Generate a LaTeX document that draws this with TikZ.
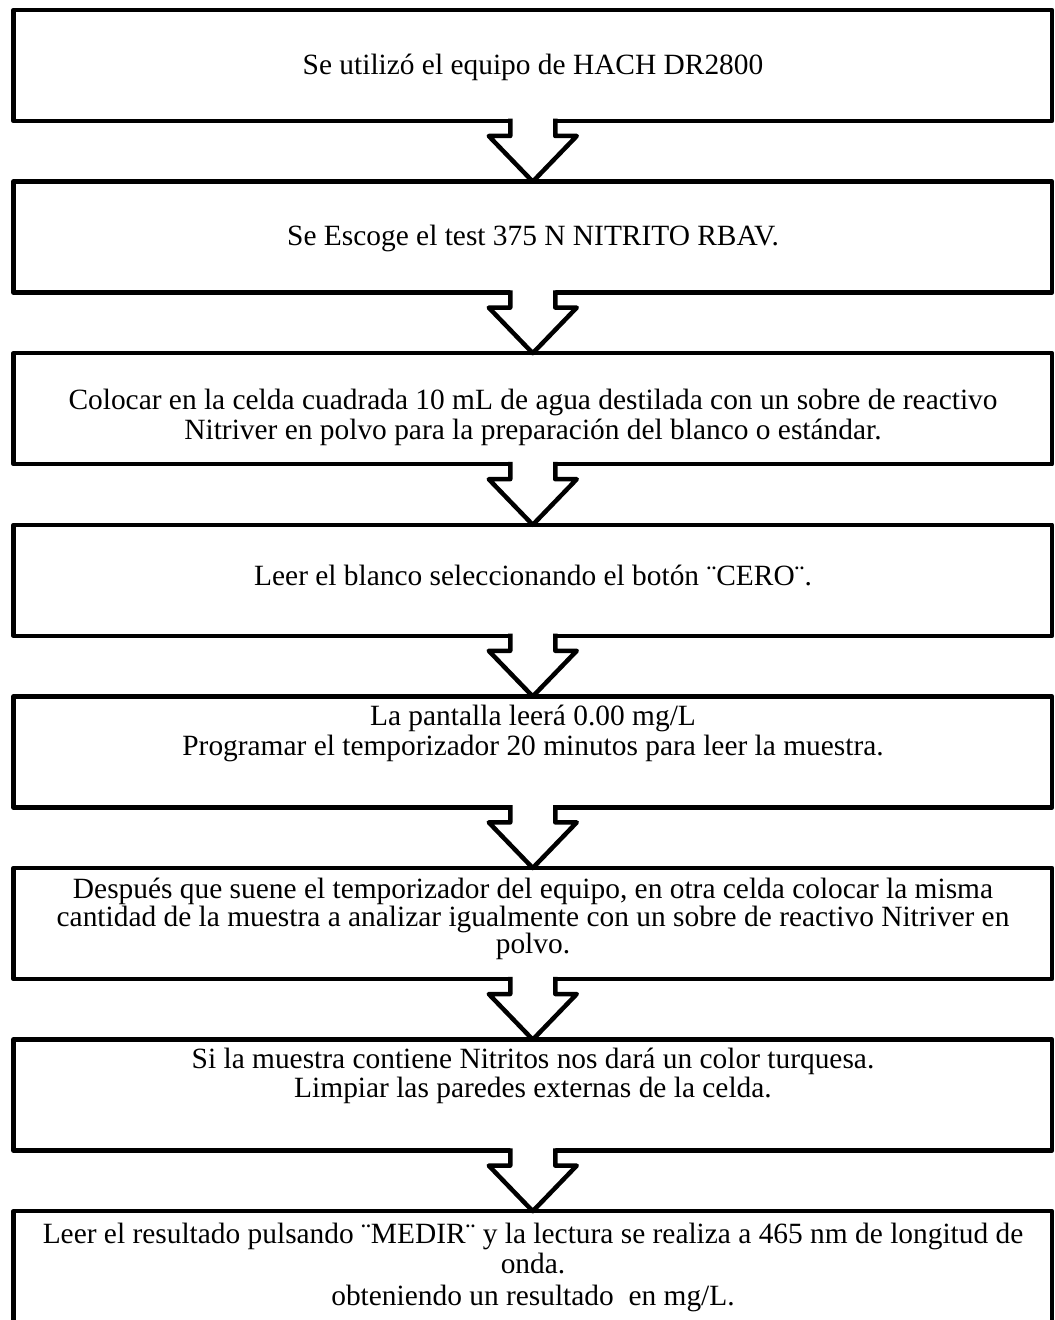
\documentclass[tikz,border=0pt]{standalone}
\usepackage{fontspec}
\setmainfont{Liberation Serif}
\usetikzlibrary{calc}
\begin{document}
\begin{tikzpicture}[x=1bp,y=-1bp,
  box/.style={draw, line width=4.5bp, rectangle, minimum width=1038.5bp, minimum height=111bp, inner sep=0pt, outer sep=0pt, line join=round},
  txt/.style={align=center, inner sep=0pt, anchor=north, font=\fontsize{29.4bp}{29.5bp}\selectfont},
  blockarrow/.style={line width=4.5bp, line join=round}
]
\useasboundingbox (0,0) rectangle (1054,1320);
\clip (0,0) rectangle (1054,1320);

\node[box] (b1) at (532.75,65.5) {};
\node[box] (b2) at (532.75,237.1) {};
\node[box] (b3) at (532.75,408.7) {};
\node[box] (b4) at (532.75,580.3) {};
\node[box] (b5) at (532.75,751.9) {};
\node[box] (b6) at (532.75,923.5) {};
\node[box] (b7) at (532.75,1095.1) {};
\node[box, minimum height=160bp] (b8) at (532.75,1291.2) {};

\foreach \a/\b in {b1/b2,b2/b3,b3/b4,b4/b5,b5/b6,b6/b7,b7/b8} {
  \fill[white] ($(\a.south)+(-22.5,-2.5)$) -- ($(\a.south)+(-22.5,15)$) -- ($(\a.south)+(-44,15)$)
     -- (\b.north) -- ($(\a.south)+(44,15)$) -- ($(\a.south)+(22.5,15)$) -- ($(\a.south)+(22.5,-2.5)$) -- cycle;
  \draw[blockarrow] ($(\a.south)+(-22.5,-2.25)$) -- ($(\a.south)+(-22.5,15)$) -- ($(\a.south)+(-44,15)$)
     -- (\b.north) -- ($(\a.south)+(44,15)$) -- ($(\a.south)+(22.5,15)$) -- ($(\a.south)+(22.5,-2.25)$);
}

\node[txt] (t1) at (533,53.5) {Se utilizó el equipo de HACH DR2800};
\node[txt] (t2) at (533,225.1) {Se Escoge el test 375 N NITRITO RBAV.};
\node[txt] (t3) at (533,388.7) {Colocar en la celda cuadrada 10 mL de agua destilada con un sobre de reactivo\\[0.5bp] Nitriver en polvo para la preparación del blanco o estándar.};
\node[txt] (t4) at (533,565.3) {Leer el blanco seleccionando el botón ¨CERO¨.};
\node[txt] (t5) at (533,704.9) {La pantalla leerá 0.00 mg/L\\[0.5bp] Programar el temporizador 20 minutos para leer la muestra.};
\node[txt] (t6) at (533,878) {Después que suene el temporizador del equipo, en otra celda colocar la misma\\[-1.5bp] cantidad de la muestra a analizar igualmente con un sobre de reactivo Nitriver en\\[-2.5bp] polvo.};
\node[txt] (t7) at (533,1048) {Si la muestra contiene Nitritos nos dará un color turquesa.\\[-0.5bp] Limpiar las paredes externas de la celda.};
\node[txt] (t8) at (533,1222.7) {Leer el resultado pulsando ¨MEDIR¨ y la lectura se realiza a 465 nm de longitud de\\[0.5bp] onda.\\[2.5bp] obteniendo un resultado\ \ en mg/L.};
\end{tikzpicture}
\end{document}
